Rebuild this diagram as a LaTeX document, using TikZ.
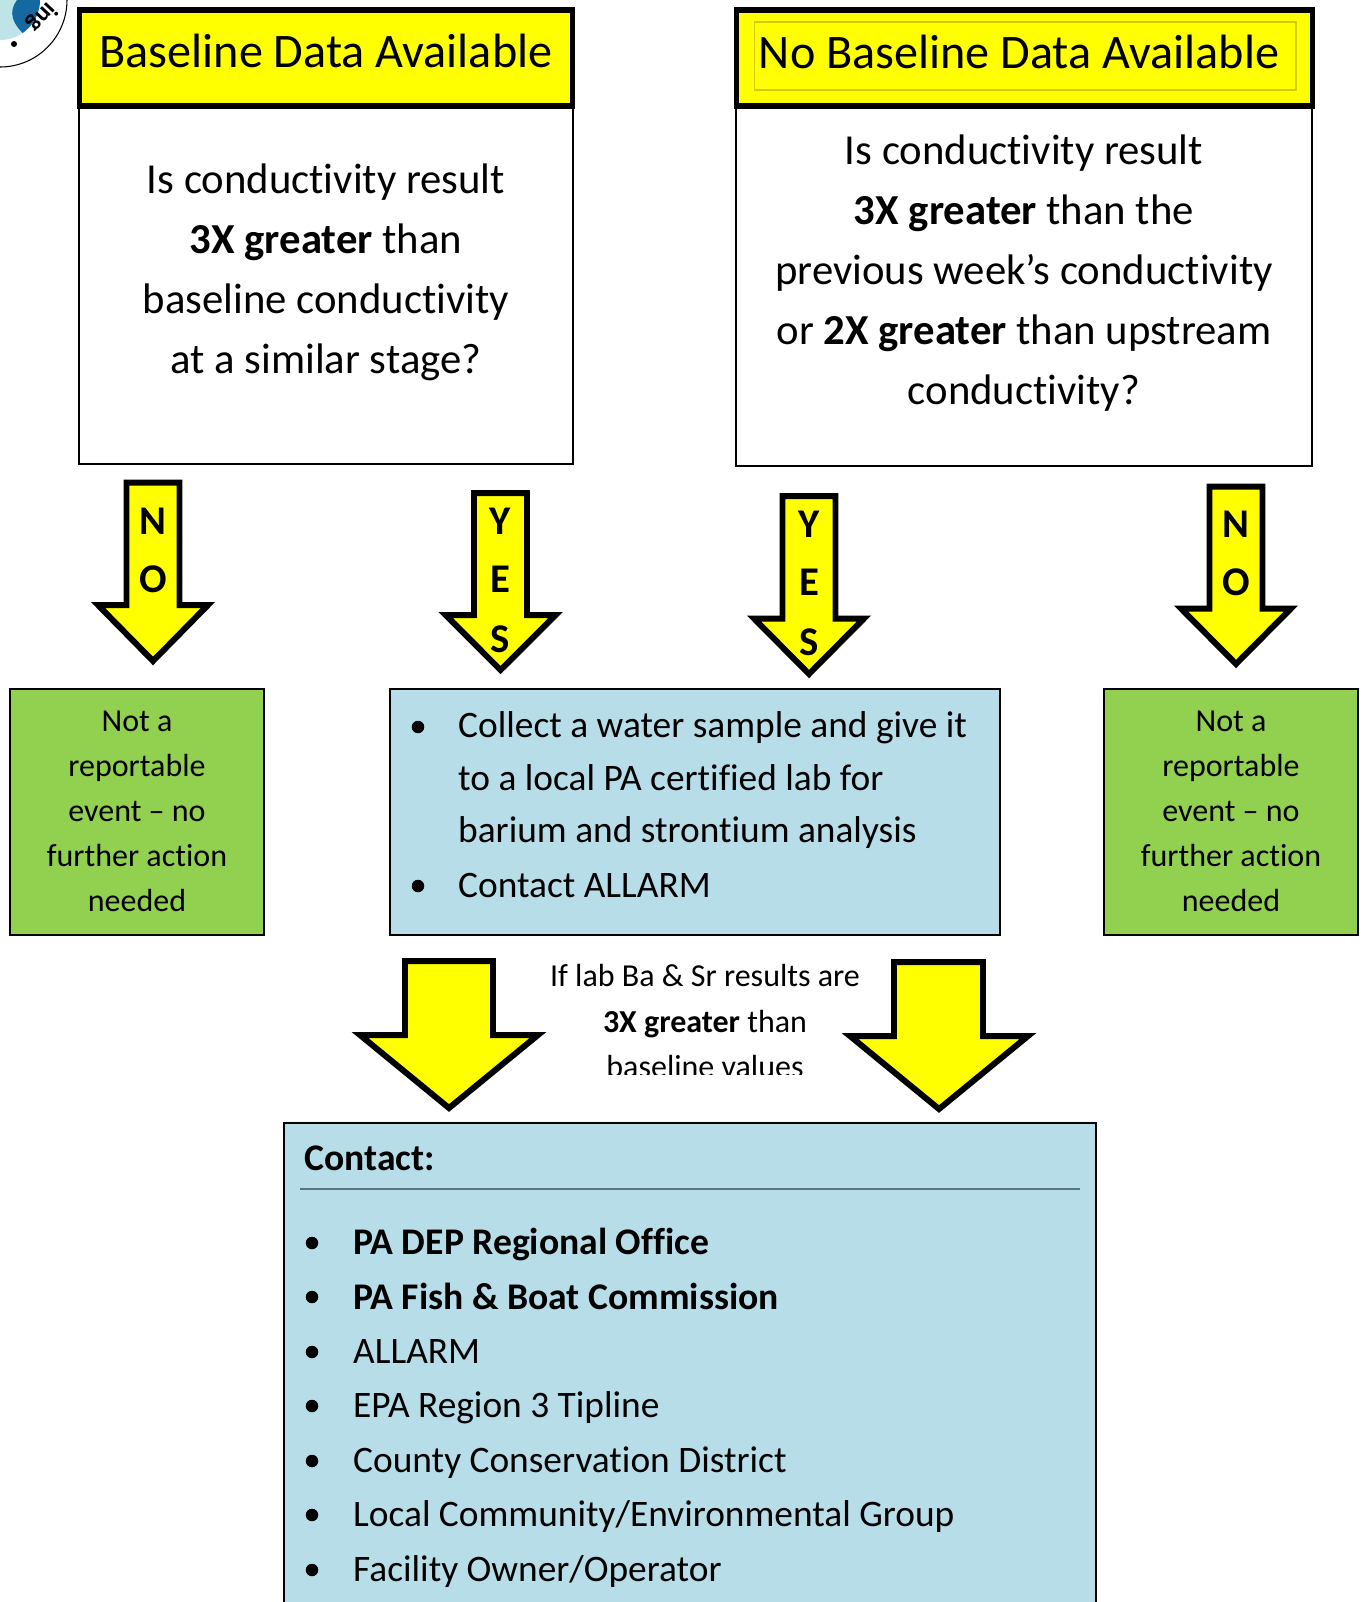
\documentclass[tikz,border=0pt]{standalone}
\usepackage{fontspec}
\setmainfont[Ligatures=NoCommon]{Carlito}
\usepackage{xcolor}
\definecolor{hdryellow}{RGB}{255, 255, 0}
\definecolor{boxgreen}{RGB}{146, 208, 80}
\definecolor{boxblue}{RGB}{183, 221, 232}
\definecolor{logoblue}{RGB}{20, 105, 160}
\definecolor{logolight}{RGB}{190, 228, 232}
\definecolor{framegold}{RGB}{212, 204, 0}
\definecolor{rulegrey}{RGB}{90, 115, 128}
\tikzset{
  hdrbox/.style={draw,line width=1.6pt,fill=hdryellow,inner sep=0pt},
  thinbox/.style={draw,line width=.55pt,inner sep=0pt},
  bigarrow/.style={draw,line width=1.7pt,fill=hdryellow},
  hdrtext/.style={anchor=base,inner sep=0pt,font=\fontsize{13.7}{16}\selectfont},
  qtext/.style={align=center,inner sep=0pt,font=\fontsize{12.15}{17.07}\selectfont},
  greentext/.style={align=center,inner sep=0pt,font=\fontsize{9.1}{12.8}\selectfont},
  labtext/.style={align=center,inner sep=0pt,font=\fontsize{9.1}{12.8}\selectfont},
  arrowletter/.style={anchor=base,inner sep=0pt,font=\fontsize{11.6}{13}\selectfont\bfseries},
  listtext/.style={anchor=base west,inner sep=0pt,font=\fontsize{10.63}{12}\selectfont},
  listbold/.style={listtext,font=\fontsize{10.7}{12}\selectfont\bfseries},
  dotmark/.style={circle,fill=black,inner sep=0pt,minimum size=.125cm},
}

\begin{document}
\begin{tikzpicture}[x=.01cm,y=-.01cm]
\path[use as bounding box,clip] (0,0) rectangle (1363,1602);
% corner of the logo
\draw[fill=white,line width=.3pt] (0,0) circle [radius=67];
\begin{scope}
\clip (0,0) circle [radius=40];
\fill[logolight] (0,0) circle [radius=40];
\fill[logoblue] (17,0) .. controls (8,12) and (12,24) .. (26,36) -- (60,36) -- (60,0) -- cycle;
\end{scope}
\node[inner sep=0pt,rotate=-133,font=\fontsize{7}{8}\selectfont\bfseries] (logotext) at (42,17) {ing};
\node[dotmark,minimum size=.06cm] (logodot) at (14,44) {};
% question boxes, headers on top
\node[thinbox,minimum width=4.94cm,minimum height=3.60cm] (q1) at (326,284) {};
\node[thinbox,minimum width=5.76cm,minimum height=3.60cm] (q2) at (1024,286) {};
\node[hdrbox,minimum width=4.93cm,minimum height=.96cm] (hdr1) at (326,58) {};
\node[hdrbox,minimum width=5.76cm,minimum height=.96cm] (hdr2) at (1024.5,58) {};
\draw[framegold,line width=.3pt] (754.5,22) rectangle (1296,90);
\node[hdrtext] (hdr1text) at (326,67) {Baseline Data Available};
\node[hdrtext] (hdr2text) at (1019,68) {No Baseline Data Available};
\node[qtext] (q1text) at (326,272) {Is conductivity result\\\textbf{3X greater} than\\baseline conductivity\\at a similar stage?};
\node[qtext] (q2text) at (1024,273) {Is conductivity result\\\textbf{3X greater} than the\\previous week’s conductivity\\or \textbf{2X greater} than upstream\\conductivity?};
% small arrows
\draw[bigarrow] (126.5,482.5) -- (179.5,482.5) -- (179.5,605) -- (208,605) -- (153,661) -- (98,605) -- (126.5,605) -- cycle;
\draw[bigarrow] (474,493) -- (527,493) -- (527,615) -- (555.6,615) -- (500.5,670) -- (445.6,615) -- (474,615) -- cycle;
\draw[bigarrow] (782.5,496) -- (835.5,496) -- (835.5,618.5) -- (864,618.5) -- (809,674) -- (754,618.5) -- (782.5,618.5) -- cycle;
\draw[bigarrow] (1209.5,486.5) -- (1262.5,486.5) -- (1262.5,608.5) -- (1291,608.5) -- (1236,664) -- (1181,608.5) -- (1209.5,608.5) -- cycle;
\node[arrowletter] (no1a) at (153,534) {N};
\node[arrowletter] (no1b) at (153,592) {O};
\node[arrowletter] (yes1a) at (500.5,534) {Y};
\node[arrowletter] (yes1b) at (500.5,592) {E};
\node[arrowletter] (yes1c) at (500.5,652) {S};
\node[arrowletter] (yes2a) at (809,537) {Y};
\node[arrowletter] (yes2b) at (809,595) {E};
\node[arrowletter] (yes2c) at (809,655) {S};
\node[arrowletter] (no2a) at (1236,537) {N};
\node[arrowletter] (no2b) at (1236,595) {O};
% result boxes
\node[thinbox,fill=boxgreen,minimum width=2.54cm,minimum height=2.46cm] (green1) at (137,812) {};
\node[thinbox,fill=boxgreen,minimum width=2.54cm,minimum height=2.46cm] (green2) at (1231,812) {};
\node[thinbox,fill=boxblue,minimum width=6.10cm,minimum height=2.46cm] (sample) at (695,812) {};
\node[greentext] (green1text) at (137,811) {Not a\\reportable\\event – no\\further action\\needed};
\node[greentext] (green2text) at (1231,811) {Not a\\reportable\\event – no\\further action\\needed};
\node[dotmark] (sdot1) at (418,727) {};
\node[dotmark] (sdot2) at (418,886) {};
\node[listtext] (sline1) at (457.5,737) {Collect a water sample and give it};
\node[listtext] (sline2) at (457.5,790) {to a local PA certified lab for};
\node[listtext] (sline3) at (457.5,842) {barium and strontium analysis};
\node[listtext] (sline4) at (457.5,897) {Contact ALLARM};
% large arrows and the text between them
\draw[bigarrow] (405,961) -- (493,961) -- (493,1035) -- (538,1035) -- (449,1108) -- (360,1035) -- (405,1035) -- cycle;
\draw[bigarrow] (894,962) -- (983,962) -- (983,1036) -- (1028,1036) -- (939,1109) -- (850,1036) -- (894,1036) -- cycle;
\begin{scope}
\clip (500,940) rectangle (900,1074);
\node[labtext] (labtext1) at (705,1021) {If lab Ba \& Sr results are\\\textbf{3X greater} than\\baseline values};
\end{scope}
% contact box
\node[thinbox,fill=boxblue,minimum width=8.12cm,minimum height=5.00cm] (contact) at (690,1373) {};
\node[listbold] (contacthead) at (304,1170) {Contact:};
\coordinate (ruleL) at (300,1189);
\coordinate (ruleR) at (1080,1189);
\draw[rulegrey,line width=.7pt] (ruleL) -- (ruleR);
\node[dotmark] (cdot1) at (312,1243) {};
\node[dotmark] (cdot2) at (312,1297) {};
\node[dotmark] (cdot3) at (312,1352) {};
\node[dotmark] (cdot4) at (312,1406) {};
\node[dotmark] (cdot5) at (312,1461) {};
\node[dotmark] (cdot6) at (312,1515) {};
\node[dotmark] (cdot7) at (312,1570) {};
\node[listbold] (cline1) at (352.5,1254) {PA DEP Regional Office};
\node[listbold] (cline2) at (352.5,1309) {PA Fish \& Boat Commission};
\node[listtext] (cline3) at (352.5,1363) {ALLARM};
\node[listtext] (cline4) at (352.5,1417) {EPA Region 3 Tipline};
\node[listtext] (cline5) at (352.5,1472) {County Conservation District};
\node[listtext] (cline6) at (352.5,1526) {Local Community/Environmental Group};
\node[listtext] (cline7) at (352.5,1581) {Facility Owner/Operator};
\end{tikzpicture}
\end{document}
